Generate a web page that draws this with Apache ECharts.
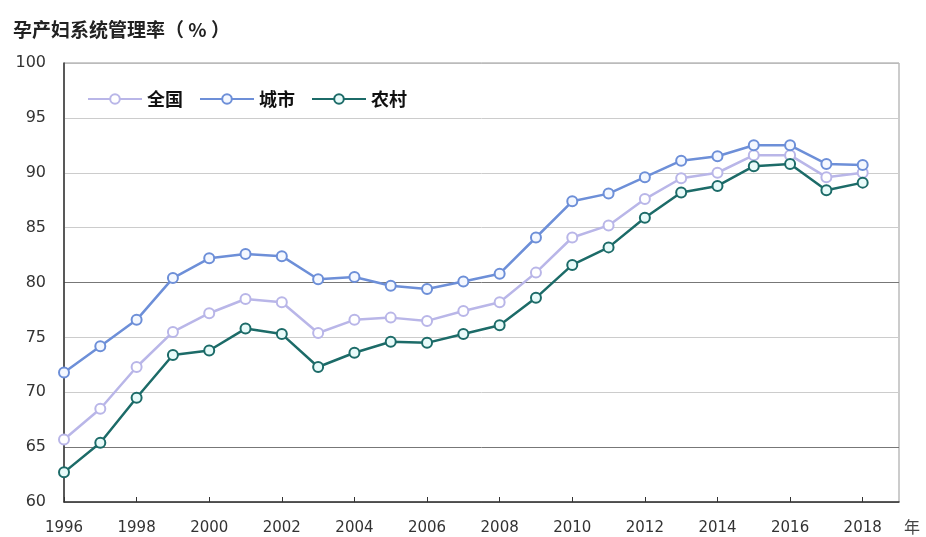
<!DOCTYPE html>
<html>
<head>
<meta charset="utf-8">
<script src="https://cdn.jsdelivr.net/npm/echarts@6/dist/echarts.min.js"></script>
<style>
  html, body { margin: 0; padding: 0; background: #fff; }
  #chart { width: 926px; height: 537px; }
</style>
</head>
<body>
<div id="chart"></div>
<script>
// 年份与三条曲线
const years = [1996, 1997, 1998, 1999, 2000, 2001, 2002, 2003, 2004, 2005, 2006, 2007,
  2008, 2009, 2010, 2011, 2012, 2013, 2014, 2015, 2016, 2017, 2018]
const yearLabels = [1996, 1998, 2000, 2002, 2004, 2006, 2008, 2010, 2012, 2014, 2016, 2018]
const national = [65.7, 68.5, 72.3, 75.5, 77.2, 78.5, 78.2, 75.4, 76.6, 76.8, 76.5, 77.4,
  78.2, 80.9, 84.1, 85.2, 87.6, 89.5, 90.0, 91.6, 91.6, 89.6, 90.0]
const urban = [71.8, 74.2, 76.6, 80.4, 82.2, 82.6, 82.4, 80.3, 80.5, 79.7, 79.4, 80.1,
  80.8, 84.1, 87.4, 88.1, 89.6, 91.1, 91.5, 92.5, 92.5, 90.8, 90.7]
const rural = [62.7, 65.4, 69.5, 73.4, 73.8, 75.8, 75.3, 72.3, 73.6, 74.6, 74.5, 75.3,
  76.1, 78.6, 81.6, 83.2, 85.9, 88.2, 88.8, 90.6, 90.8, 88.4, 89.1]
const seriesNames = ['全国', '城市', '农村']

const chart = echarts.init(document.getElementById('chart'))

const makeLine = (name, values, color, fill) => ({
  name: name,
  type: 'line',
  data: years.map((y, i) => [y, values[i]]),
  symbol: 'circle',
  symbolSize: 10,
  lineStyle: { color: color, width: 2.5 },
  itemStyle: { color: fill, borderColor: color, borderWidth: 2 }
})

const numFont = '"DejaVu Sans", sans-serif'

chart.setOption({
  animation: false,
  textStyle: { fontFamily: '"Noto Sans CJK SC", "Noto Sans", sans-serif' },
  title: {
    text: '孕产妇系统管理率（ % ）',
    left: 8,
    top: 15,
    textStyle: { fontSize: 19, fontWeight: 'bold', color: '#222' }
  },
  legend: {
    data: seriesNames,
    left: 82,
    top: 85,
    itemWidth: 54,
    itemHeight: 12,
    itemGap: 16,
    textStyle: { fontSize: 18, fontWeight: 'bold', color: '#111' }
  },
  grid: {
    left: 64,
    right: 27,
    top: 63,
    bottom: 35,
    show: true,
    borderColor: '#999',
    borderWidth: 1
  },
  xAxis: {
    type: 'value',
    min: 1996,
    max: 2019,
    interval: 1,
    name: '年',
    nameLocation: 'end',
    nameGap: 5,
    nameTextStyle: { fontSize: 16, color: '#444', verticalAlign: 'top', padding: [17, 0, 0, 0] },
    axisLine: { lineStyle: { color: '#333', width: 1.5 } },
    axisTick: { inside: true, length: 5, customValues: yearLabels, lineStyle: { color: '#333' } },
    axisLabel: {
      customValues: yearLabels,
      formatter: v => String(v),
      fontFamily: numFont,
      fontSize: 15,
      color: '#333',
      margin: 19
    },
    splitLine: { show: false }
  },
  yAxis: {
    type: 'value',
    min: 60,
    max: 100,
    interval: 5,
    axisLine: { show: true, lineStyle: { color: '#333', width: 1.5 } },
    axisTick: { show: false },
    axisLabel: { fontFamily: numFont, fontSize: 16, color: '#333', margin: 18 },
    splitLine: {
      lineStyle: {
        color: ['#999', '#777', '#ccc', '#ccc', '#777', '#ccc', '#ccc', '#ccc', '#bbb'],
        width: 1
      }
    }
  },
  series: [
    makeLine('全国', national, '#b9b6e8', '#ffffff'),
    makeLine('城市', urban, '#6d8fd8', '#f4f8ff'),
    makeLine('农村', rural, '#1c6b68', '#e8fbfa')
  ]
})
</script>
</body>
</html>
